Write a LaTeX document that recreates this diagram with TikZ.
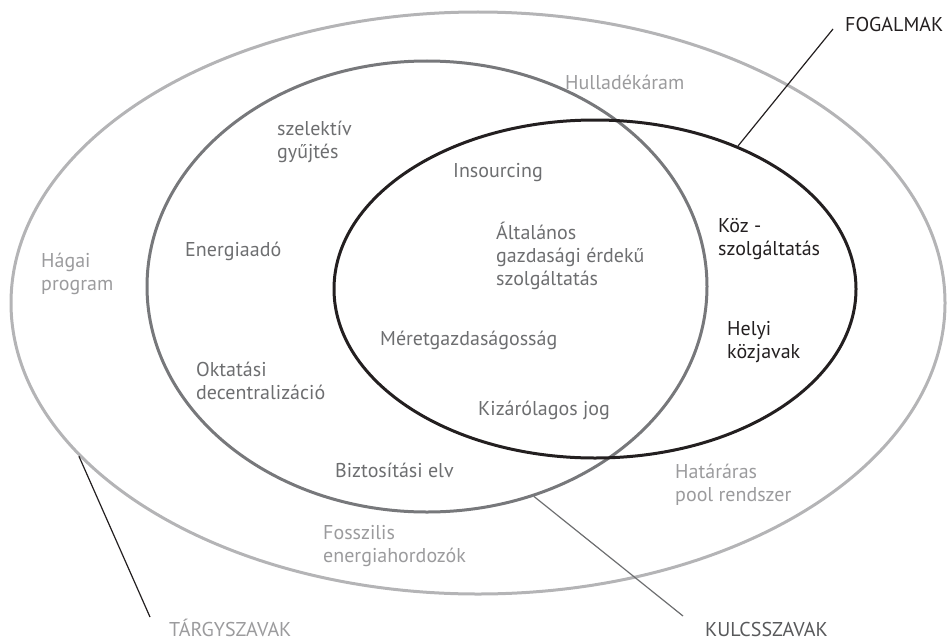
\documentclass[tikz,border=0pt]{standalone}
\usepackage{fontspec}
\setmainfont{PT Sans}
\usetikzlibrary{shapes.geometric}

\definecolor{ink}{HTML}{231F20}
\definecolor{ringout}{HTML}{B4B4B6}
\definecolor{ringmid}{HTML}{77787B}
\definecolor{txtlight}{HTML}{9B9B9D}
\definecolor{txtmid}{HTML}{6D6E70}
\definecolor{txtkey}{HTML}{58595B}

\begin{document}
\begin{tikzpicture}[x=1pt,y=-1pt,
  ring/.style={ellipse, draw, line width=3pt, inner sep=0pt},
  % multi-line labels sit on the baseline of their last line
  lbl/.style={font=\fontsize{20}{23}\selectfont, align=left, inner sep=0pt, anchor=base west},
  outerlbl/.style={lbl, text=txtlight},
  midlbl/.style={lbl, text=txtmid},
  innerlbl/.style={lbl, text=ink},
  leader/.style={line width=1.2pt, draw=ink}]
\useasboundingbox (0,0) rectangle (947,642);

% three nested rings
\node[ring, draw=ringout, minimum width=934pt, minimum height=582pt] (outer) at (478,303) {};
\node[ring, draw=ringmid, minimum width=560pt, minimum height=451pt] (middle) at (427,286.5) {};
\node[ring, draw=ink, minimum width=522pt, minimum height=338pt] (inner) at (595,289) {};

% outer ring terms
\node[outerlbl] (hull) at (565,89) {Hulladékáram};
\node[outerlbl] (hagai) at (41,290) {Hágai\\program};
\node[outerlbl] (hatar) at (675,501) {Határáras\\pool rendszer};
\node[outerlbl] (fossz) at (323,562) {Fosszilis\\energiahordozók};

% middle ring terms
\node[midlbl] (szel) at (277,158) {szelektív\\gyűjtés};
\node[midlbl] (insour) at (453,177) {Insourcing};
\node[midlbl] (altal) at (496,285) {Általános\\gazdasági érdekű\\szolgáltatás};
\node[midlbl] (energ) at (185,256) {Energiaadó};
\node[midlbl] (meret) at (380,345) {Méretgazdaságosság};
\node[midlbl] (oktat) at (196,399) {Oktatási\\decentralizáció};
\node[midlbl] (kizar) at (478,415) {Kizárólagos jog};
\node[midlbl] (bizt) at (335,477) {Biztosítási elv};

% inner ring terms
\node[innerlbl] (koz) at (718,255) {Köz -\\szolgáltatás};
\node[innerlbl] (helyi) at (727,358) {Helyi\\közjavak};

% leaders and their captions
\coordinate (fogEnd) at (833,29);
\coordinate (targyEnd) at (150,617);
\coordinate (kulcsEnd) at (683,616);
\draw[leader] (inner.45) -- (fogEnd);
\draw[leader] (outer.201.3) -- (targyEnd);
\draw[leader, draw=txtmid] (middle.-63.2) -- (kulcsEnd);
\node[innerlbl] (fog) at (845,32) {FOGALMAK};
\node[outerlbl] (targy) at (169,636) {TÁRGYSZAVAK};
\node[lbl, text=txtkey] (kulcs) at (705,636) {KULCSSZAVAK};
\end{tikzpicture}
\end{document}
